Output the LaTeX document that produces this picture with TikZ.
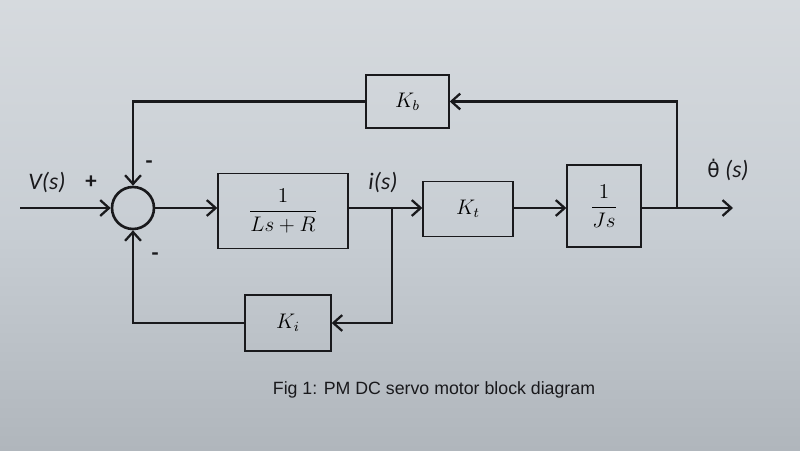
\documentclass[tikz,border=0pt]{standalone}
\usepackage{fontspec}
\setmainfont{Latin Modern Roman}
\newfontfamily\lblfont{Carlito}
\newfontfamily\capfont{Liberation Sans}
\newfontfamily\dvfont{DejaVu Sans}
\usetikzlibrary{arrows.meta,calc}
\definecolor{paper}{RGB}{200,206,212}
\definecolor{paperlight}{RGB}{214,218,222}
\definecolor{paperdark}{RGB}{176,182,188}
\definecolor{ink}{RGB}{25,25,28}
\begin{document}
\begin{tikzpicture}[x=0.02cm,y=-0.02cm,
  blk/.style={draw=ink,line width=0.8pt,rectangle,inner sep=0pt,font=\fontsize{12}{14}\selectfont},
  sig/.style={draw=ink,line width=1.5pt},
  arr/.style={sig,-{Straight Barb[length=5pt,width=9pt,line width=1.3pt]}},
  lbl/.style={text=ink,font=\lblfont\itshape\fontsize{13.5}{15}\selectfont},
  sgn/.style={text=ink,font=\lblfont\bfseries\fontsize{13}{15}\selectfont}]
\shade[top color=paperlight,bottom color=paperdark,middle color=paper] (0,0) rectangle (800,450);
\useasboundingbox (0,0) rectangle (800,450);
% summing junction
\node[draw=ink,line width=1.5pt,circle,minimum size=0.84cm,inner sep=0pt] (sum) at (133,208) {};
\coordinate (in) at (20,208);
% blocks
\node[blk,minimum width=2.6cm,minimum height=1.5cm] (G1) at (283,211) {$\displaystyle\frac{1}{Ls+R}$};
\node[blk,minimum width=1.8cm,minimum height=1.1cm] (Kt) at (468,209) {$K_t$};
\node[blk,minimum width=1.48cm,minimum height=1.64cm] (G2) at (604,206) {$\displaystyle\frac{1}{Js}$};
\node[blk,minimum width=1.66cm,minimum height=1.06cm] (Kb) at (407.5,101.5) {$K_b$};
\node[blk,minimum width=1.72cm,minimum height=1.12cm] (Ki) at (288,323) {$K_i$};
\coordinate (bi) at (392,208);
\coordinate (bo) at (677,208);
\coordinate (out) at (733,208);
% main path
\draw[arr] (in) -- (sum.west);
\draw[arr] (sum.east) -- (sum.east -| G1.west);
\draw[sig] (sum.east -| G1.east) -- (bi);
\draw[arr] (bi) -- (bi -| Kt.west);
\draw[arr] (Kt.east |- bi) -- (bi -| G2.west);
\draw[arr] (G2.east |- bo) -- (out);
% feedback paths
\draw[arr] (bo) |- (Kb.east);
\draw[arr] (Kb.west) -| (sum.north);
\draw[arr] (bi) |- (Ki.east);
\draw[arr] (Ki.west) -| (sum.south);
% labels
\node[lbl] (vs) at (47,182) {V(s)};
\node[sgn] (plus) at (91,182) {+};
\node[sgn] (m1) at (149,165) {-};
\node[sgn] (m2) at (155,257) {-};
\node[lbl] (is) at (383,182) {i(s)};
\node[lbl] (th) at (728,170) {{\dvfont\upshape\fontsize{11.5}{14}\selectfont θ̇} (s)};
\node[text=ink,font=\capfont\fontsize{10.1}{12}\selectfont] (cap) at (434,390) {Fig 1: PM DC servo motor block diagram};
\end{tikzpicture}
\end{document}
